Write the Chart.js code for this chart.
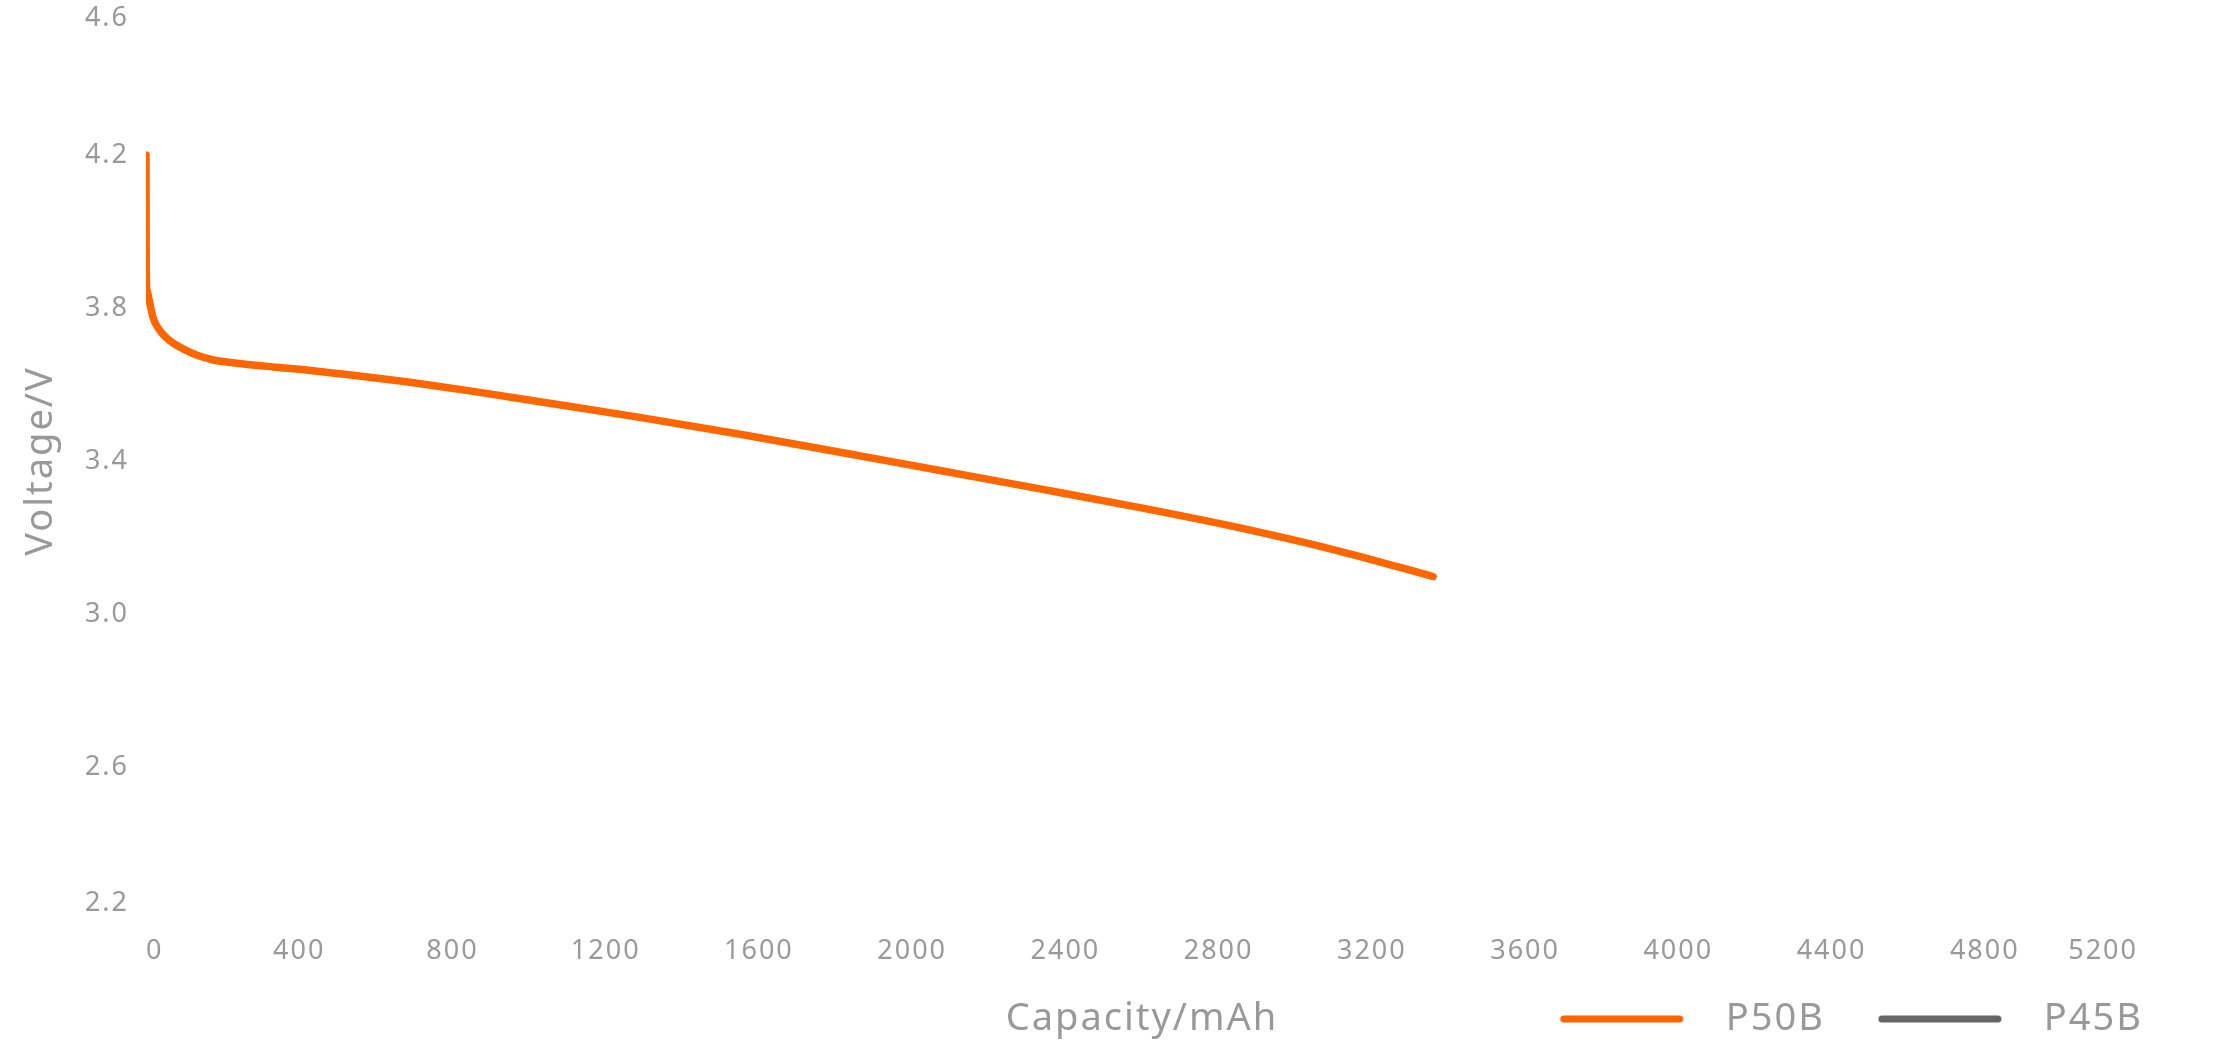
<!DOCTYPE html>
<html>
<head>
<meta charset="utf-8">
<title>Discharge curve</title>
<script src="https://cdn.jsdelivr.net/npm/chart.js@4.4.1/dist/chart.umd.min.js"></script>
<style>
  html, body { margin: 0; padding: 0; background: #ffffff; }
  #chart { display: block; }
</style>
</head>
<body>
<canvas id="chart" width="2240" height="1040"></canvas>
<script>
// capacity (mAh) and voltage (V)
const capacityP50B = [0, 0.5, 3, 10, 19, 32, 50, 71, 97, 132, 176, 245, 332, 419, 506, 680, 767, 854,
  1028, 1289, 1551, 1812, 2073, 2334, 2595, 2856, 3117, 3360];
const voltageP50B = [4.20, 3.90, 3.845, 3.812, 3.773, 3.747, 3.725, 3.708, 3.693, 3.677, 3.664, 3.655, 3.646, 3.638,
  3.628, 3.607, 3.595, 3.582, 3.555, 3.514, 3.470, 3.423, 3.375, 3.327, 3.278, 3.225, 3.164, 3.098];

// P45B is only in the legend, no curve shown
const capacityP45B = [];
const voltageP45B = [];

const seriesNames = ["P50B", "P45B"];
const seriesColors = ["#ff6600", "#666666"];

const xMin = 0, xMax = 5200, xStep = 400;
const yMin = 2.2, yMax = 4.6, yStep = 0.4;

const textColor = "#999999";
const fontFamily = "'Noto Sans', 'Open Sans', sans-serif";

function toPoints(xs, ys) {
  const pts = [];
  for (let i = 0; i < xs.length; i++) {
    pts.push({ x: xs[i], y: ys[i] });
  }
  return pts;
}

// small rounded line used as legend marker
function legendLine(color) {
  const c = document.createElement("canvas");
  c.width = 124;
  c.height = 8;
  const g = c.getContext("2d");
  g.strokeStyle = color;
  g.lineWidth = 7;
  g.lineCap = "round";
  g.beginPath();
  g.moveTo(4, 4);
  g.lineTo(120, 4);
  g.stroke();
  return c;
}

// canvas letter spacing, the original text is a bit spread out
const spacingPlugin = {
  id: "spacing",
  beforeUpdate(chart) { chart.ctx.letterSpacing = "2px"; },
  beforeDraw(chart) { chart.ctx.letterSpacing = "2px"; },
};

const config = {
  type: "line",
  data: {
    datasets: [
      {
        label: seriesNames[0],
        data: toPoints(capacityP50B, voltageP50B),
        borderColor: seriesColors[0],
        backgroundColor: seriesColors[0],
        borderWidth: 7.5,
        borderCapStyle: "round",
        borderJoinStyle: "round",
        cubicInterpolationMode: "monotone",
        pointRadius: 0,
        pointStyle: legendLine(seriesColors[0]),
        fill: false,
      },
      {
        label: seriesNames[1],
        data: toPoints(capacityP45B, voltageP45B),
        borderColor: seriesColors[1],
        backgroundColor: seriesColors[1],
        borderWidth: 7.5,
        borderCapStyle: "round",
        pointRadius: 0,
        pointStyle: legendLine(seriesColors[1]),
        fill: false,
      },
    ],
  },
  options: {
    responsive: false,
    devicePixelRatio: 1,
    animation: false,
    layout: {
      padding: { top: 2, right: 67, bottom: -8, left: 0 },
    },
    plugins: {
      tooltip: { enabled: false },
      legend: {
        position: "bottom",
        align: "end",
        labels: {
          usePointStyle: true,
          pointStyleWidth: 170,
          padding: 30,
          color: textColor,
          font: { family: fontFamily, size: 38 },
        },
      },
    },
    scales: {
      x: {
        type: "linear",
        min: xMin,
        max: xMax,
        grid: { display: false, drawTicks: false },
        border: { display: false },
        ticks: {
          stepSize: xStep,
          align: "inner",
          padding: 15,
          maxRotation: 0,
          autoSkip: false,
          color: textColor,
          font: { family: fontFamily, size: 27 },
          callback: (value) => String(value),
        },
        title: {
          display: true,
          text: "Capacity/mAh",
          color: textColor,
          font: { family: fontFamily, size: 38 },
          padding: { top: 0, bottom: -72 },
        },
        afterFit(scale) {
          scale.height = 50;
          scale.paddingLeft = 0;
          scale.paddingRight = 102;
        },
      },
      y: {
        min: yMin,
        max: yMax,
        grid: { display: false, drawTicks: false },
        border: { display: false },
        ticks: {
          stepSize: yStep,
          padding: 17,
          color: textColor,
          font: { family: fontFamily, size: 27 },
          callback(value) {
            const txt = Number(value).toFixed(1);
            // keep the end labels inside the plot, like the original
            if (Math.abs(value - yMax) < 1e-6) return ["", txt];
            if (Math.abs(value - yMin) < 1e-6) return [txt, ""];
            return txt;
          },
        },
        title: {
          display: true,
          text: "Voltage/V",
          color: textColor,
          font: { family: fontFamily, size: 38 },
          padding: { top: 18, bottom: 0 },
        },
        afterFit(scale) {
          scale.width = 146;
          scale.paddingTop = 0;
          scale.paddingBottom = 0;
        },
      },
    },
  },
  plugins: [spacingPlugin],
};

const chart = new Chart(document.getElementById("chart"), config);
</script>
</body>
</html>
